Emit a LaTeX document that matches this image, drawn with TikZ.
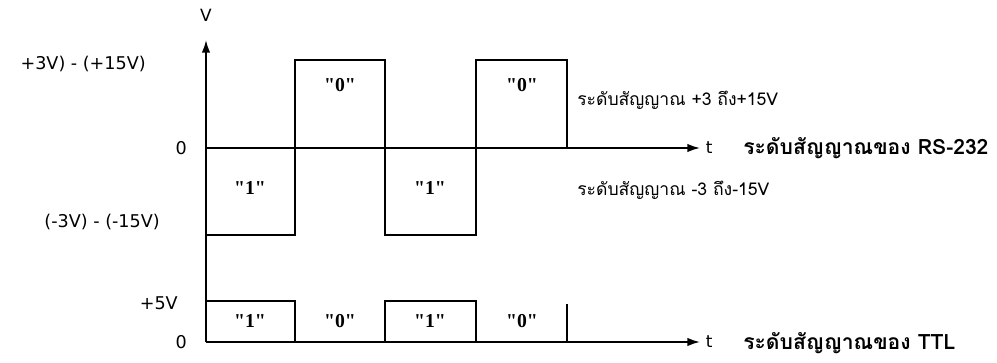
\documentclass[tikz,border=0pt]{standalone}
\usepackage{fontspec}
\setmainfont{DejaVu Sans}
\newfontfamily\thaifont[Script=Thai]{Loma}
\newfontfamily\bitfont{Liberation Serif}
\usetikzlibrary{arrows.meta, positioning}

\begin{document}
\begin{tikzpicture}[
    x=0.025cm, y=0.025cm,
    axis/.style={-{Latex[length=9pt,width=6pt]}, line width=1.2pt},
    wave/.style={line width=1.2pt},
    lvl/.style={font=\fontsize{12.5}{14}\selectfont, anchor=east, inner sep=0pt},
    bit/.style={font=\bitfont\bfseries\fontsize{14}{16}\selectfont},
    note/.style={font=\thaifont\fontsize{12.5}{14}\selectfont, anchor=west, inner sep=0pt},
    title/.style={font=\thaifont\bfseries\fontsize{15}{17}\selectfont, anchor=west, inner sep=0pt},
  ]
    \useasboundingbox (0,0) rectangle (997,362);

    % axes
    \coordinate (ttl0) at (206,20);
    \coordinate (rs0)  at (206,214);
    \coordinate (vtop) at (206,322);
    \coordinate (rsend)  at (700,214);
    \coordinate (ttlend) at (700,20);
    \draw[axis] (ttl0) -- (vtop);
    \draw[axis] (rs0) -- (rsend);
    \draw[axis] (ttl0) -- (ttlend);
    \node[font=\fontsize{12}{14}\selectfont] (vlab) at (206,347) {V};
    \node[right=4pt of rsend, font=\fontsize{12}{14}\selectfont, inner sep=0pt] (trs) {t};
    \node[right=4pt of ttlend, font=\fontsize{12}{14}\selectfont, inner sep=0pt] (tttl) {t};

    % level labels
    \node[lvl] (hi)   at (146,298) {+3V) - (+15V)};
    \node[lvl] (zrs)  at (187,214) {0};
    \node[lvl] (lo)   at (160,140) {(-3V) - (-15V)};
    \node[lvl] (five) at (178,59)  {+5V};
    \node[lvl] (zttl) at (187,20)  {0};

    % RS-232 waveform
    \draw[wave] (206,127) -- (295,127) -- (295,302) -- (385,302) -- (385,127)
                -- (476,127) -- (476,302) -- (567,302) -- (567,214);
    \node[bit] (r1) at (250,174) {"1"};
    \node[bit] (r2) at (340,277) {"0"};
    \node[bit] (r3) at (430,174) {"1"};
    \node[bit] (r4) at (522,277) {"0"};
    \node[note] (rshi) at (577,262) {ระดับสัญญาณ +3 ถึง+15V};
    \node[note] (rslo) at (577,172) {ระดับสัญญาณ -3 ถึง-15V};
    \node[title] (rsname) at (743,214) {ระดับสัญญาณของ RS-232};

    % TTL waveform
    \draw[wave] (206,61) -- (295,61) -- (295,20);
    \draw[wave] (385,20) -- (385,61) -- (476,61) -- (476,20);
    \draw[wave] (567,20) -- (567,58);
    \node[bit] (t1) at (250,41) {"1"};
    \node[bit] (t2) at (340,41) {"0"};
    \node[bit] (t3) at (430,41) {"1"};
    \node[bit] (t4) at (522,41) {"0"};
    \node[title] (ttlname) at (743,19) {ระดับสัญญาณของ TTL};
\end{tikzpicture}
\end{document}
